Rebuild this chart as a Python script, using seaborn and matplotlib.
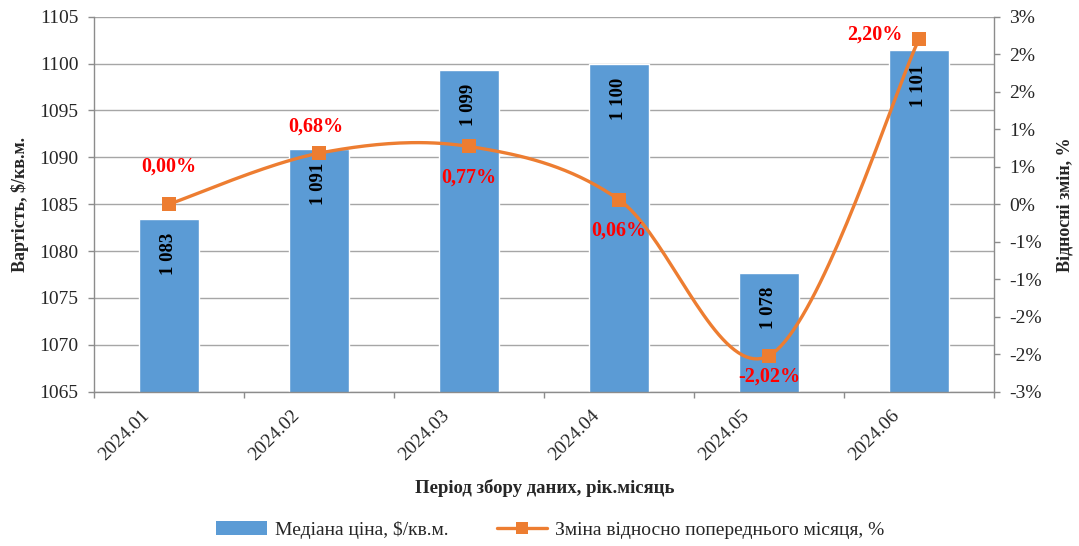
import numpy as np
import pandas as pd
import matplotlib
matplotlib.use('Agg')
import matplotlib.pyplot as plt
import matplotlib.transforms as mtransforms
from matplotlib.lines import Line2D
from matplotlib.patches import Patch
import seaborn as sns

# Data
periods = ['2024.01', '2024.02', '2024.03', '2024.04', '2024.05', '2024.06']
median_price = [1083.4, 1090.9, 1099.3, 1100.0, 1077.7, 1101.4]
pct_change = [0.00, 0.68, 0.77, 0.06, -2.02, 2.20]

left_ticks = [1065, 1070, 1075, 1080, 1085, 1090, 1095, 1100, 1105]
right_ticks = [-2.5, -2.0, -1.5, -1.0, -0.5, 0.0, 0.5, 1.0, 1.5, 2.0, 2.5]
right_tick_labels = ['-3%', '-2%', '-2%', '-1%', '-1%', '0%', '1%', '1%', '2%', '2%', '3%']

bar_name = 'Медіана ціна, $/кв.м.'
line_name = 'Зміна відносно попереднього місяця, %'

df = pd.DataFrame({'period': periods, 'price': median_price, 'pct': pct_change})

sns.set_style('white')
plt.rcParams['font.family'] = ['Liberation Serif', 'DejaVu Serif']

bar_color = '#5B9BD5'
line_color = '#ED7D31'
grid_color = '#A6A6A6'
spine_color = '#8C8C8C'

fig = plt.figure(figsize=(10.79, 5.46), dpi=100)
ax = fig.add_axes([0.0871, 0.2826, 0.8341, 0.6868])

# Bars
sns.barplot(data=df, x='period', y='price', color=bar_color, saturation=1,
            width=0.4, ax=ax, zorder=2)
ax.set_ylim(1065, 1105)
ax.set_xlim(-0.5, 5.5)
ax.set_yticks(left_ticks)
ax.yaxis.grid(True, color=grid_color, linewidth=1.0, zorder=0)
ax.set_axisbelow(True)

# Value labels inside bars
for i, v in enumerate(median_price):
    ax.annotate(f'{v:,.0f}'.replace(',', ' '), (i, v), xytext=(0, -10),
                textcoords='offset points', rotation=90, ha='center', va='top',
                fontsize=13.5, fontweight='bold', color='black')

# Smoothed line (Excel-like cubic bezier through points)
xs_pts = np.arange(len(pct_change), dtype=float)
ys_pts = np.array(pct_change, dtype=float)
curve_x, curve_y = [], []
n = len(xs_pts)
for i in range(n - 1):
    p0 = np.array([xs_pts[max(i - 1, 0)], ys_pts[max(i - 1, 0)]])
    p1 = np.array([xs_pts[i], ys_pts[i]])
    p2 = np.array([xs_pts[i + 1], ys_pts[i + 1]])
    p3 = np.array([xs_pts[min(i + 2, n - 1)], ys_pts[min(i + 2, n - 1)]])
    c1 = p1 + (p2 - p0) / 6
    c2 = p2 - (p3 - p1) / 6
    t = np.linspace(0, 1, 40)[:, None]
    seg = (1 - t) ** 3 * p1 + 3 * (1 - t) ** 2 * t * c1 + 3 * (1 - t) * t ** 2 * c2 + t ** 3 * p2
    curve_x.extend(seg[:, 0])
    curve_y.extend(seg[:, 1])

ax2 = ax.twinx()
sns.lineplot(x=curve_x, y=curve_y, sort=False, color=line_color, linewidth=2.4,
             ax=ax2, legend=False)
sns.scatterplot(x=xs_pts, y=ys_pts, marker='s', s=110, color=line_color,
                linewidth=0, ax=ax2, zorder=5, legend=False)
ax2.set_ylim(-2.5, 2.5)
ax2.set_yticks(right_ticks)
ax2.set_yticklabels(right_tick_labels)

# Percent labels
pct_offsets = [(0, 27), (-2, 19.5), (0, -22.5), (0, -22.5), (0, -15), (-32, 3.5)]
for i, (v, off) in enumerate(zip(pct_change, pct_offsets)):
    ax2.annotate(f'{v:.2f}%'.replace('.', ','), (i, v), xytext=off,
                 textcoords='offset points', ha='center', va='center',
                 fontsize=14.5, fontweight='bold', color='#FF0000')

# Spines and ticks
for a in (ax, ax2):
    a.spines['top'].set_visible(False)
    for side in ('left', 'right', 'bottom'):
        a.spines[side].set_color(spine_color)
        a.spines[side].set_linewidth(1.0)
ax.spines['right'].set_visible(False)
ax2.spines['left'].set_visible(False)
ax2.spines['bottom'].set_visible(False)

ax.tick_params(axis='y', direction='out', length=4, width=1, color=spine_color,
               labelsize=14, pad=7, left=True)
ax2.tick_params(axis='y', direction='out', length=4, width=1, color=spine_color,
                labelsize=14, pad=7, right=True)

ax.set_xticks(range(len(periods)))
ax.set_xticks(np.arange(-0.5, len(periods), 1.0), minor=True)
ax.tick_params(axis='x', which='major', length=0, pad=0, labelsize=14)
ax.tick_params(axis='x', which='minor', direction='out', length=4, width=1,
               color=spine_color, bottom=True)
ax.set_xticklabels(periods, rotation=45, ha='right', va='center',
                   rotation_mode='anchor')
shift = mtransforms.ScaledTranslation(-0.22, -0.21, fig.dpi_scale_trans)
for lbl in ax.get_xticklabels():
    lbl.set_transform(lbl.get_transform() + shift)

# Axis titles
ax.set_xlabel('Період збору даних, рік.місяць', fontsize=13.5, fontweight='bold')
ax.xaxis.set_label_coords(0.501, -0.232)
ax.set_ylabel('Вартість, $/кв.м.', fontsize=13, fontweight='bold')
ax.yaxis.set_label_coords(-0.072, 0.5)
ax2.set_ylabel('Відносні змін, %', fontsize=13, fontweight='bold')
ax2.yaxis.set_label_coords(1.069, 0.5)

# Legend
handles = [Patch(facecolor=bar_color, edgecolor='none'),
           Line2D([0], [0], color=line_color, linewidth=2.4, marker='s',
                  markersize=8, markeredgewidth=0)]
fig.legend(handles, [bar_name, line_name], loc='center', bbox_to_anchor=(0.51, 0.03),
           ncol=2, frameon=False, fontsize=14, handlelength=2.6, columnspacing=2.5,
           handletextpad=0.4)

fig.savefig('out.png', dpi=100)
